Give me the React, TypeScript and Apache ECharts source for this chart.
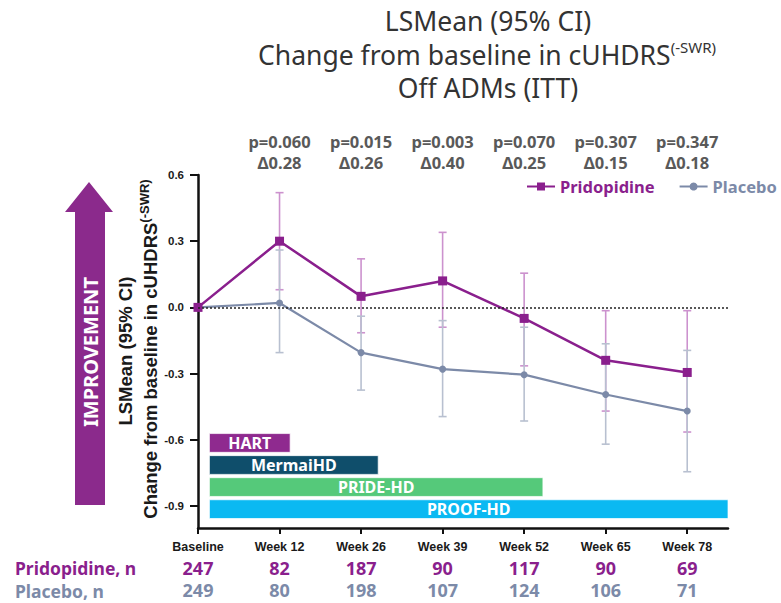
import React, { useEffect, useRef } from 'react';
import * as echarts from 'echarts';

// Visit labels along the x axis (index 0 = baseline)
const categories = ['Baseline', 'Week 12', 'Week 26', 'Week 39', 'Week 52', 'Week 65', 'Week 78'];

// LSMean change from baseline and 95% CI
const pridopidineMean = [0, 0.30, 0.05, 0.12, -0.05, -0.24, -0.295];
const pridopidineLower = [0, 0.08, -0.115, -0.09, -0.265, -0.47, -0.565];
const pridopidineUpper = [0, 0.52, 0.22, 0.34, 0.155, -0.015, -0.015];
const placeboMean = [0, 0.02, -0.205, -0.28, -0.305, -0.395, -0.47];
const placeboLower = [0, -0.205, -0.375, -0.495, -0.515, -0.62, -0.745];
const placeboUpper = [0, 0.26, -0.04, -0.06, -0.09, -0.165, -0.195];

// Treatment difference and p-value per visit (Week 12 .. Week 78)
const pValues = ['0.060', '0.015', '0.003', '0.070', '0.307', '0.347'];
const deltas = ['0.28', '0.26', '0.40', '0.25', '0.15', '0.18'];

// Subjects per visit
const pridopidineN = [247, 82, 187, 90, 117, 90, 69];
const placeboN = [249, 80, 198, 107, 124, 106, 71];

const yTicks = [0.6, 0.3, 0, -0.3, -0.6, -0.9];

// Study durations, in visit-index units on the x axis
const studies = ['HART', 'MermaiHD', 'PRIDE-HD', 'PROOF-HD'];
const studyStart = [0.14, 0.14, 0.14, 0.14];
const studyEnd = [1.13, 2.21, 4.23, 6.5];

const PURPLE = '#8a1f8d';
const PURPLE_CI = '#cc92ce';
const PLACEBO = '#7c8aa8';
const PLACEBO_CI = '#b8c0d0';
const STUDY_COLORS = ['#8f2a8f', '#0f4e6b', '#55c97a', '#0bb9f2'];
const SANS = '"Noto Sans", sans-serif';
const ARIAL = '"Liberation Sans", Arial, sans-serif';

function errorBars(lower: number[], upper: number[], color: string) {
  return {
    type: 'custom',
    xAxisIndex: 0,
    yAxisIndex: 0,
    z: 1,
    silent: true,
    encode: { x: 0, y: [1, 2] },
    data: categories.map((_, i) => [i, lower[i], upper[i]]).slice(1),
    renderItem: (_params: any, api: any) => {
      const x = api.value(0);
      const lo = api.coord([x, api.value(1)]);
      const hi = api.coord([x, api.value(2)]);
      const cap = 4;
      const style = { stroke: color, lineWidth: 1.6 };
      return {
        type: 'group',
        children: [
          { type: 'line', shape: { x1: lo[0], y1: lo[1], x2: hi[0], y2: hi[1] }, style },
          { type: 'line', shape: { x1: lo[0] - cap, y1: lo[1], x2: lo[0] + cap, y2: lo[1] }, style },
          { type: 'line', shape: { x1: hi[0] - cap, y1: hi[1], x2: hi[0] + cap, y2: hi[1] }, style },
        ],
      };
    },
  };
}

function buildOption() {
  return {
    animation: false,
    backgroundColor: '#ffffff',
    grid: { left: 198, right: 53, top: 175, bottom: 75, containLabel: false },
    legend: {
      orient: 'horizontal',
      left: 526,
      top: 178,
      width: 300,
      padding: 0,
      itemWidth: 28,
      itemHeight: 10,
      itemGap: 24,
      textStyle: { fontFamily: SANS, fontWeight: 'bold', fontSize: 16.5 },
      data: [
        { name: 'Pridopidine', textStyle: { color: PURPLE } },
        { name: 'Placebo', textStyle: { color: PLACEBO } },
      ],
    },
    xAxis: [
      {
        type: 'value',
        min: 0,
        max: 6.5,
        position: 'bottom',
        splitLine: { show: false },
        axisLine: { show: true, onZero: false, lineStyle: { color: '#111', width: 2.5 } },
        axisTick: {
          show: true,
          length: 6,
          customValues: categories.map((_, i) => i),
          lineStyle: { color: '#111', width: 2 },
        },
        axisLabel: {
          customValues: categories.map((_, i) => i),
          margin: 9,
          formatter: (v: number) => {
            const i = Math.round(v);
            return `{c|${categories[i]}}\n{p|${pridopidineN[i]}}\n{q|${placeboN[i]}}`;
          },
          rich: {
            c: { fontFamily: ARIAL, fontSize: 12.5, fontWeight: 'bold', color: '#1a1a1a', lineHeight: 20 },
            p: { fontFamily: SANS, fontSize: 18, fontWeight: 'bold', color: PURPLE, lineHeight: 22 },
            q: { fontFamily: SANS, fontSize: 18, fontWeight: 'bold', color: PLACEBO, lineHeight: 22 },
          },
        },
      },
      {
        type: 'value',
        min: 0,
        max: 6.5,
        position: 'top',
        splitLine: { show: false },
        axisLine: { show: false },
        axisTick: { show: false },
        axisLabel: {
          customValues: pValues.map((_, i) => i + 1),
          margin: 2,
          formatter: (v: number) => {
            const i = Math.round(v) - 1;
            return `{p|p=${pValues[i]}}\n{d|\u0394${deltas[i]}}`;
          },
          rich: {
            p: { fontFamily: SANS, fontSize: 16.5, fontWeight: 'bold', color: '#595959', lineHeight: 21 },
            d: { fontFamily: SANS, fontSize: 16.5, fontWeight: 'bold', color: '#595959', lineHeight: 21 },
          },
        },
      },
    ],
    yAxis: {
      type: 'value',
      min: -1.0,
      max: 0.6,
      splitLine: { show: false },
      axisLine: { show: true, onZero: false, lineStyle: { color: '#111', width: 2.5 } },
      axisTick: {
        show: true,
        length: 8,
        customValues: yTicks,
        lineStyle: { color: '#111', width: 2 },
      },
      axisLabel: {
        customValues: yTicks,
        margin: 14,
        fontFamily: ARIAL,
        fontSize: 11.5,
        fontWeight: 'bold',
        color: '#1a1a1a',
        formatter: (v: number) => (Math.abs(v) < 1e-9 ? '0.0' : v.toFixed(1)),
      },
    },
    series: [
      {
        type: 'custom',
        name: 'studies',
        silent: true,
        z: 1,
        encode: { x: [0, 1] },
        data: studies.map((_, i) => [studyStart[i], studyEnd[i], i]),
        renderItem: (_params: any, api: any) => {
          const row = api.value(2);
          const top = -0.572 - 0.1 * row;
          const bottom = top - 0.085;
          const a = api.coord([api.value(0), top]);
          const b = api.coord([api.value(1), bottom]);
          return {
            type: 'rect',
            shape: { x: a[0], y: a[1], width: b[0] - a[0], height: b[1] - a[1] },
            style: { fill: STUDY_COLORS[row], stroke: 'rgba(255,255,255,0.7)', lineWidth: 1 },
            textContent: {
              style: {
                text: studies[row],
                fill: '#ffffff',
                fontFamily: SANS,
                fontWeight: 'bold',
                fontSize: 16,
              },
            },
            textConfig: { position: 'inside' },
          };
        },
      },
      errorBars(pridopidineLower, pridopidineUpper, PURPLE_CI),
      errorBars(placeboLower, placeboUpper, PLACEBO_CI),
      {
        name: 'Placebo',
        type: 'line',
        z: 3,
        data: categories.map((_, i) => [i, placeboMean[i]]),
        symbol: 'circle',
        symbolSize: 7,
        itemStyle: { color: PLACEBO },
        lineStyle: { color: PLACEBO, width: 2.2 },
      },
      {
        name: 'Pridopidine',
        type: 'line',
        z: 4,
        data: categories.map((_, i) => [i, pridopidineMean[i]]),
        symbol: 'rect',
        symbolSize: 9,
        itemStyle: { color: PURPLE },
        lineStyle: { color: PURPLE, width: 2.5 },
        markLine: {
          silent: true,
          symbol: 'none',
          label: { show: false },
          lineStyle: { color: '#222', type: [2, 2], width: 1.5 },
          data: [{ yAxis: 0 }],
        },
      },
    ],
    graphic: [
      {
        type: 'text',
        x: 488,
        y: 21,
        style: {
          text: 'LSMean (95% CI)',
          fontFamily: SANS,
          fontSize: 26.5,
          fill: '#333333',
          textAlign: 'center',
          textVerticalAlign: 'middle',
        },
      },
      {
        type: 'text',
        x: 487,
        y: 55,
        style: {
          text: '{a|Change from baseline in cUHDRS}{s|(-SWR)}',
          textAlign: 'center',
          textVerticalAlign: 'middle',
          rich: {
            a: { fontFamily: SANS, fontSize: 26.5, fill: '#333333', lineHeight: 32 },
            s: { fontFamily: SANS, fontSize: 15, fill: '#333333', verticalAlign: 'top', lineHeight: 32 },
          },
        },
      },
      {
        type: 'text',
        x: 488,
        y: 88,
        style: {
          text: 'Off ADMs (ITT)',
          fontFamily: SANS,
          fontSize: 26.5,
          fill: '#333333',
          textAlign: 'center',
          textVerticalAlign: 'middle',
        },
      },
      {
        type: 'polygon',
        shape: {
          points: [
            [89, 182],
            [113, 212],
            [105, 212],
            [105, 505],
            [75, 505],
            [75, 212],
            [65, 212],
          ],
        },
        style: { fill: '#8b2a8c' },
      },
      {
        type: 'text',
        x: 90,
        y: 352,
        rotation: Math.PI / 2,
        style: {
          text: 'IMPROVEMENT',
          fontFamily: SANS,
          fontWeight: 'bold',
          fontSize: 20,
          fill: '#ffffff',
          textAlign: 'center',
          textVerticalAlign: 'middle',
        },
      },
      {
        type: 'text',
        x: 125,
        y: 351,
        rotation: Math.PI / 2,
        style: {
          text: 'LSMean (95% CI)',
          fontFamily: ARIAL,
          fontWeight: 'bold',
          fontSize: 18.5,
          fill: '#1a1a1a',
          textAlign: 'center',
          textVerticalAlign: 'middle',
        },
      },
      {
        type: 'text',
        x: 150,
        y: 349,
        rotation: Math.PI / 2,
        style: {
          text: '{a|Change from baseline in cUHDRS}{s|(-SWR)}',
          textAlign: 'center',
          textVerticalAlign: 'middle',
          rich: {
            a: { fontFamily: ARIAL, fontWeight: 'bold', fontSize: 18.5, fill: '#1a1a1a', lineHeight: 24 },
            s: { fontFamily: ARIAL, fontWeight: 'bold', fontSize: 13, fill: '#1a1a1a', verticalAlign: 'top', lineHeight: 24 },
          },
        },
      },
      {
        type: 'text',
        x: 15,
        y: 568,
        style: {
          text: 'Pridopidine, n',
          fontFamily: SANS,
          fontWeight: 'bold',
          fontSize: 17.5,
          lineHeight: 20,
          fill: PURPLE,
          textAlign: 'left',
          textVerticalAlign: 'middle',
        },
      },
      {
        type: 'text',
        x: 15,
        y: 591,
        style: {
          text: 'Placebo, n',
          fontFamily: SANS,
          fontWeight: 'bold',
          fontSize: 17.5,
          lineHeight: 20,
          fill: PLACEBO,
          textAlign: 'left',
          textVerticalAlign: 'middle',
        },
      },
    ],
  };
}

export default function App() {
  const ref = useRef<HTMLDivElement>(null);
  useEffect(() => {
    document.body.style.margin = '0';
    const chart = echarts.init(ref.current!, null, { renderer: 'svg' });
    chart.setOption(buildOption() as any);
    return () => chart.dispose();
  }, []);
  return <div ref={ref} style={{ width: 781, height: 603, background: '#ffffff' }} />;
}
